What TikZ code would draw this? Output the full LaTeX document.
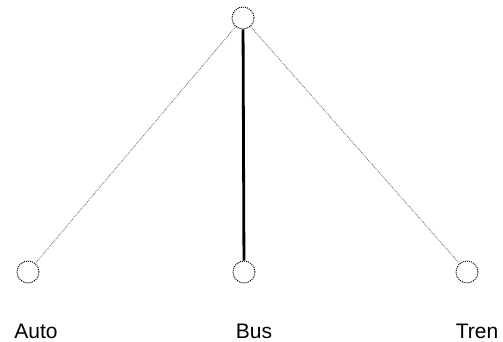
\documentclass[tikz,border=0pt]{standalone}
\usepackage{fontspec}
\setmainfont{Liberation Sans}
\usepackage{tikz}
\usetikzlibrary{positioning}

\begin{document}
\begin{tikzpicture}[
  x=1pt, y=-1pt,
  vertex/.style={draw, circle, densely dotted, line width=1pt, minimum size=22pt, inner sep=0pt},
  weak/.style={densely dotted, color=black!60, line width=0.8pt},
  strong/.style={line width=2.8pt, color=black},
  label/.style={font=\fontsize{21}{24}\selectfont, anchor=base}
]
  \useasboundingbox (0,0) rectangle (503,342);

  \node[vertex] (root) at (243,18) {};
  \node[vertex] (auto) at (28,272) {};
  \node[vertex] (bus)  at (244,272) {};
  \node[vertex] (tren) at (467,272) {};

  \node[label] (lauto) at (36,338) {Auto};
  \node[label] (lbus)  at (254,338) {Bus};
  \node[label] (ltren) at (477,338) {Tren};

  \draw[weak] (root) -- (auto);
  \draw[strong] (root) -- (bus);
  \draw[weak] (root) -- (tren);
\end{tikzpicture}
\end{document}
